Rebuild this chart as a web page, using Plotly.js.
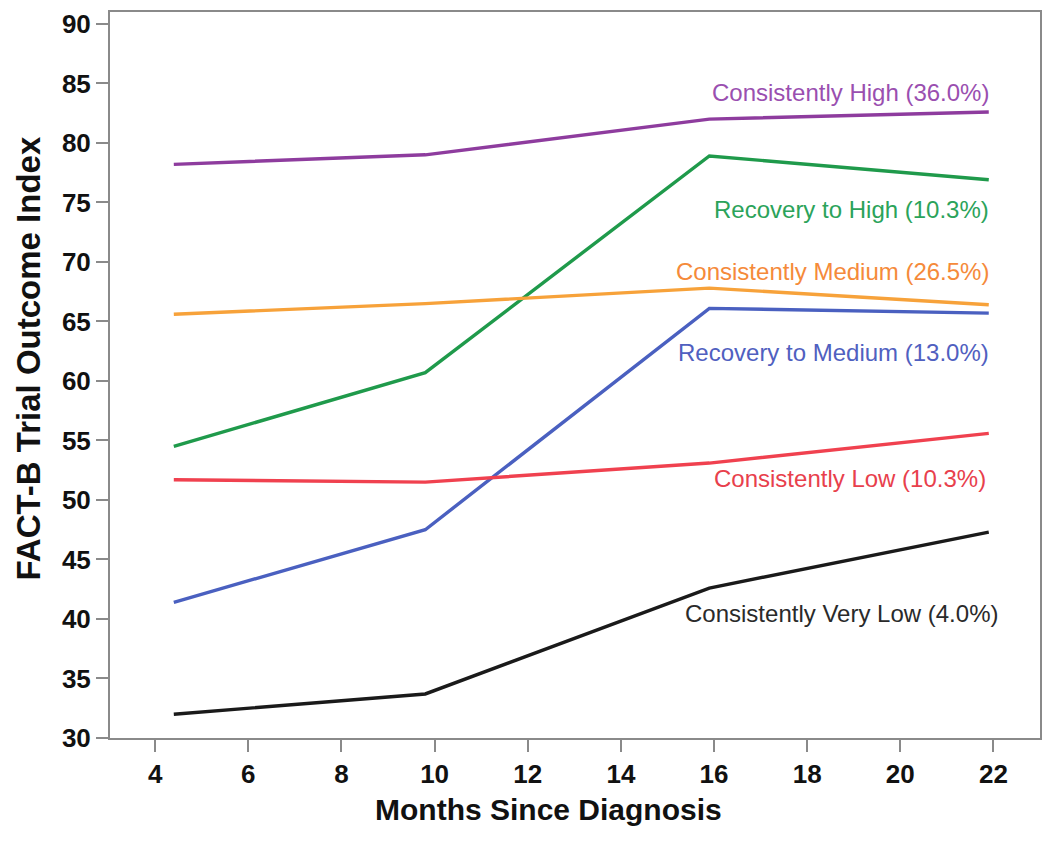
<!DOCTYPE html>
<html>
<head>
<meta charset="utf-8">
<script src="https://cdn.plot.ly/plotly-3.0.1.min.js"></script>
<style>html,body{margin:0;padding:0;background:#fff;}#chart{width:1050px;height:843px;}</style>
</head>
<body>
<div id="chart"></div>
<script>
const months = [4.4, 9.8, 15.9, 21.9];
const seriesNames = [
  "Consistently High (36.0%)",
  "Recovery to High (10.3%)",
  "Consistently Medium (26.5%)",
  "Recovery to Medium (13.0%)",
  "Consistently Low (10.3%)",
  "Consistently Very Low (4.0%)"
];
const consistentlyHigh = [78.2, 79.0, 82.0, 82.6];
const recoveryHigh = [54.5, 60.7, 78.9, 76.9];
const consistentlyMedium = [65.6, 66.5, 67.8, 66.4];
const recoveryMedium = [41.4, 47.5, 66.1, 65.7];
const consistentlyLow = [51.7, 51.5, 53.1, 55.6];
const consistentlyVeryLow = [32.0, 33.7, 42.6, 47.3];
const xTickVals = [4, 6, 8, 10, 12, 14, 16, 18, 20, 22];
const yTickVals = [30, 35, 40, 45, 50, 55, 60, 65, 70, 75, 80, 85, 90];
const xTitle = "Months Since Diagnosis";
const yTitle = "FACT-B Trial Outcome Index";

const seriesValues = [consistentlyHigh, recoveryHigh, consistentlyMedium, recoveryMedium, consistentlyLow, consistentlyVeryLow];
const lineColors = ["#8E3C9E", "#1F9A4B", "#F7A23A", "#4A60C0", "#F0414F", "#1A1A1A"];
const labelColors = ["#9A4FB0", "#2BA35A", "#F58A3A", "#5060C0", "#E8404C", "#2A2A2A"];
const labelX = [21.95, 21.95, 21.95, 21.95, 21.88, 22.15];
const labelY = [84.2, 74.4, 69.2, 62.35, 51.8, 40.5];

const traces = seriesValues.map((vals, i) => ({
  x: months, y: vals, type: "scatter", mode: "lines", name: seriesNames[i],
  line: {color: lineColors[i], width: 3.4}, showlegend: false, hoverinfo: "x+y"
}));

const annotations = seriesNames.map((n, i) => ({
  x: labelX[i], y: labelY[i], xref: "x", yref: "y", text: n, showarrow: false,
  xanchor: "right", yanchor: "middle",
  font: {family: "Liberation Sans, Arial, sans-serif", size: 24, color: labelColors[i]}
}));
annotations.push({
  x: 0.471, y: -0.098, xref: "paper", yref: "paper", text: "<b>" + xTitle + "</b>",
  showarrow: false, xanchor: "center", yanchor: "middle",
  font: {family: "Liberation Sans, Arial, sans-serif", size: 30, color: "#111"}
});
annotations.push({
  x: -0.088, y: 0.523, xref: "paper", yref: "paper", text: "<b>" + yTitle + "</b>",
  showarrow: false, xanchor: "center", yanchor: "middle", textangle: -90,
  font: {family: "Liberation Sans, Arial, sans-serif", size: 33, color: "#111"}
});

const axisCommon = {
  showline: true, mirror: true, linecolor: "#8a8a8a", linewidth: 2,
  ticks: "outside", ticklen: 12, tickwidth: 2, tickcolor: "#8a8a8a",
  showgrid: false, zeroline: false,
  tickfont: {family: "Liberation Sans, Arial, sans-serif", size: 26, color: "#111", weight: "bold"}
};

const layout = {
  width: 1050, height: 843,
  margin: {l: 110, r: 10, t: 12, b: 105},
  paper_bgcolor: "#fff", plot_bgcolor: "#fff",
  xaxis: Object.assign({}, axisCommon, {
    range: [3.03, 23.0], tickmode: "array", tickvals: xTickVals
  }),
  yaxis: Object.assign({}, axisCommon, {
    range: [30, 91.0], tickmode: "array", tickvals: yTickVals
  }),
  annotations: annotations
};

Plotly.newPlot("chart", traces, layout, {displayModeBar: false, staticPlot: true});
</script>
</body>
</html>
